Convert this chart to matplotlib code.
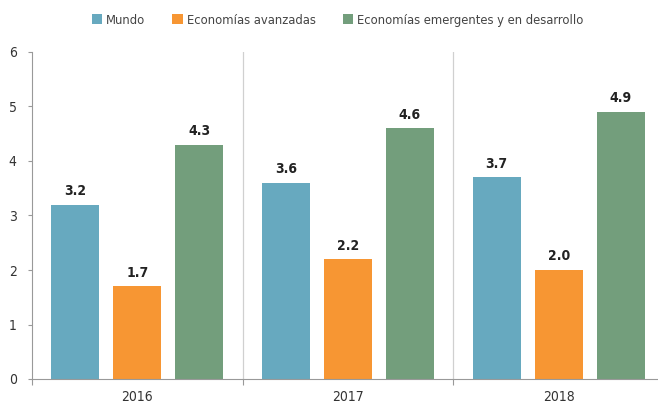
import matplotlib
matplotlib.use("Agg")
import matplotlib.pyplot as plt
import numpy as np

years = ["2016", "2017", "2018"]
series_names = ["Mundo", "Economías avanzadas", "Economías emergentes y en desarrollo"]
mundo = [3.2, 3.6, 3.7]
avanzadas = [1.7, 2.2, 2.0]
emergentes = [4.3, 4.6, 4.9]
colors = ["#67a9bf", "#f79633", "#739e7c"]

plt.rcParams["font.family"] = ["Liberation Sans Narrow", "DejaVu Sans"]
plt.rcParams["font.stretch"] = "condensed"

fig = plt.figure(figsize=(6.58, 4.05), dpi=100)
ax = fig.add_axes([32 / 658, 26 / 405, 626 / 658, 327 / 405])

x = np.arange(len(years))
width = 0.228
offset = 0.294
for k, (vals, name, col) in enumerate(zip([mundo, avanzadas, emergentes], series_names, colors)):
    pos = x + (k - 1) * offset
    ax.bar(pos, vals, width, color=col, label=name, zorder=2)
    for p, v in zip(pos, vals):
        ax.text(p, v + 0.12, f"{v:.1f}", ha="center", va="bottom",
                fontsize=10, fontweight="bold", color="#222222")

ax.set_xlim(-0.5, 2.5 - 6 / 211)
ax.set_ylim(0, 6)
ax.set_yticks(range(7))
ax.tick_params(axis="y", length=3, color="#999999", labelsize=10, labelcolor="#333333", pad=8)

# group separators
for b in [0.5, 1.5]:
    ax.axvline(b, color="#d0d0d0", linewidth=0.9, zorder=1)

ax.set_xticks([-0.5, 0.5, 1.5], minor=False)
ax.set_xticklabels([])
ax.tick_params(axis="x", length=4, color="#999999")
ax.set_xticks(x, minor=True)
ax.set_xticklabels(years, minor=True)
ax.tick_params(axis="x", which="minor", length=0, labelsize=10, labelcolor="#333333", pad=8)

for side in ["top", "right"]:
    ax.spines[side].set_visible(False)
ax.spines["left"].set_color("#999999")
ax.spines["bottom"].set_color("#999999")

fig.legend(loc="center", bbox_to_anchor=(0.513, 0.95), ncol=3, frameon=False,
           fontsize=9.3, handlelength=0.8, handleheight=0.8, handletextpad=0.3,
           columnspacing=2.1, labelcolor="#444444")

fig.savefig("out.png", dpi=100)
